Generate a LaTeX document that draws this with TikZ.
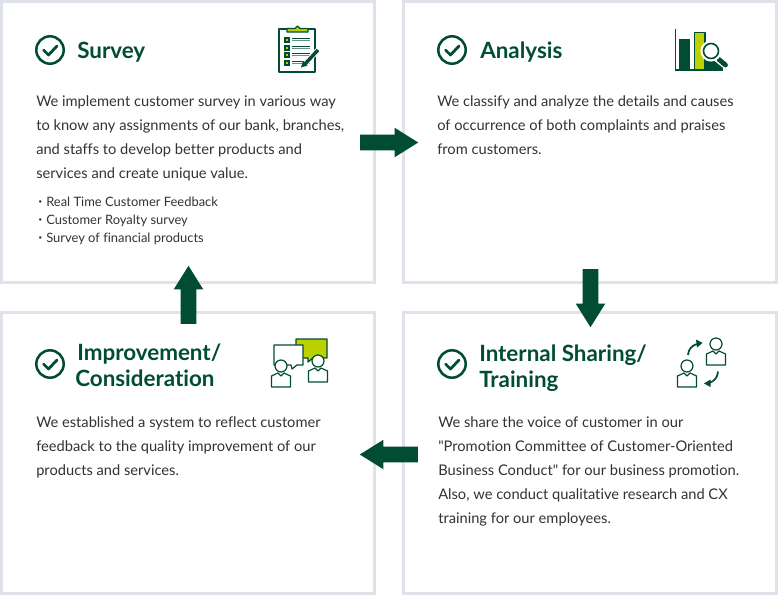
\documentclass[tikz,border=0pt]{standalone}
\usepackage{fontspec}
\setmainfont{Lato}[Ligatures={TeXOff,NoCommon}]
\newfontfamily\cjk{Noto Sans CJK JP}
\usetikzlibrary{shapes.arrows}
\definecolor{bankgreen}{HTML}{004D33}
\definecolor{bankyellow}{HTML}{BDD000}
\definecolor{panelline}{HTML}{DFE2EA}
\definecolor{bodygray}{HTML}{333333}
\tikzset{
  panel/.style={draw=panelline,line width=2.25pt,fill=white,minimum width=279.75pt,minimum height=210.75pt,outer sep=0pt},
  flow/.style={single arrow,fill=bankgreen,inner sep=5.625pt,outer sep=0pt,minimum height=43.5pt,minimum width=21.75pt,single arrow head extend=5.25pt,single arrow tip angle=64},
  heading/.style={anchor=base west,inner sep=0pt,font=\fontsize{16.8pt}{19pt}\bfseries,text=bankgreen},
  body/.style={anchor=base west,inner sep=0pt,font=\fontsize{11pt}{13pt}\selectfont,text=bodygray},
  small/.style={anchor=base west,inner sep=0pt,font=\fontsize{9.7pt}{11pt}\selectfont,text=bodygray},
  ink/.style={draw=bankgreen,line width=0.9pt,line join=round},
  checkmark/.pic={
    \draw[bankgreen,line width=1.9pt] (0,0) circle (13.7);
    \draw[bankgreen,line width=2.1pt,line cap=round,line join=round] (-6.5,0) -- (-1.5,5) -- (7,-4);
  },
  person/.pic={
    \draw[ink,fill=white] (-9.5,21) -- (-9.5,10) -- (-3,7) -- (0,10) -- (3,7) -- (9.5,10) -- (9.5,21) -- cycle;
    \draw[ink,fill=white] (0,0) circle (6);
  }
}
\begin{document}
\begin{tikzpicture}[x=0.75pt,y=-0.75pt]
  \useasboundingbox (0,0) rectangle (778,596);

  \node[panel] (survey)   at (188,142) {};
  \node[panel] (analysis) at (590,142) {};
  \node[panel] (improve)  at (188,453) {};
  \node[panel] (sharing)  at (590,453) {};

  \node[flow] (surveyanalysis)   at (383,142.5) {};
  \node[flow,shape border rotate=270] (analysissharing)  at (590.5,292) {};
  \node[flow,shape border rotate=180] (sharingimprove)   at (395,454.5) {};
  \node[flow,shape border rotate=90]  (improvesurvey)    at (188.5,301) {};

  % survey
  \pic at (50,50) {checkmark};
  \node[heading] (surveytitle) at (77,58) {Survey};
  \node[body] (surveya) at (36,106) {We implement customer survey in various way};
  \node[body] (surveyb) at (36,130) {to know any assignments of our bank, branches,};
  \node[body] (surveyc) at (36,154) {and staffs to develop better products and};
  \node[body] (surveyd) at (36,178) {services and create unique value.};
  \node[small] (surveye) at (34,206) {{\cjk\fontsize{9pt}{11pt}\selectfont ・}Real Time Customer Feedback};
  \node[small] (surveyf) at (34,224) {{\cjk\fontsize{9pt}{11pt}\selectfont ・}Customer Royalty survey};
  \node[small] (surveyg) at (34,242) {{\cjk\fontsize{9pt}{11pt}\selectfont ・}Survey of financial products};

  % clipboard
  \draw[ink,fill=white] (279,29) rectangle (315,72);
  \draw[ink,fill=bankyellow] (287,32) -- (287,28.5) -- (295,28.5) -- (297.5,26) -- (300,28.5) -- (308,28.5) -- (308,32) -- cycle;
  \foreach \rowy in {37,45,52,60} {
    \draw[bankgreen,fill=bankgreen] (284.5,\rowy) rectangle +(5,5);
    \fill[bankyellow] (286,\rowy+1.5) rectangle +(2,2);
    \draw[bankgreen,line width=0.6pt] (292,\rowy+1) -- (310,\rowy+1);
    \draw[bankgreen!60,line width=0.6pt] (292,\rowy+3.5) -- (310,\rowy+3.5);
  }
  \draw[white,line width=4pt] (304,65) -- (318,50);
  \draw[bankgreen,line width=2.6pt] (305,64) -- (318,50);
  \fill[bankgreen] (301,67.5) -- (303,61) -- (307.5,65.5) -- cycle;

  % analysis
  \pic at (452,50) {checkmark};
  \node[heading] (analysistitle) at (480,58) {Analysis};
  \node[body] (analysisa) at (437,106) {We classify and analyze the details and causes};
  \node[body] (analysisb) at (437,130) {of occurrence of both complaints and praises};
  \node[body] (analysisc) at (437,154) {from customers.};

  % chart
  \fill[bankgreen] (679,39) rectangle (690,70);
  \draw[ink,fill=bankyellow] (694.5,32.5) rectangle (705,70);
  \fill[bankgreen] (705,60) rectangle (723,70);
  \draw[bankgreen,line width=0.9pt] (675.5,29) -- (675.5,70) -- (723,70);
  \draw[white,line width=6pt,line cap=round] (716,57) -- (726,65);
  \draw[bankgreen,line width=3.6pt,line cap=round] (719,59.5) -- (725.5,65);
  \draw[white,line width=1.6pt,fill=white] (711,51) circle (9.5);
  \draw[bankgreen,line width=1.2pt] (711,51) circle (7.5);

  % improvement
  \pic at (50,364) {checkmark};
  \node[heading] (improvetitlea) at (77,360) {Improvement/};
  \node[heading] (improvetitleb) at (75,386) {Consideration};
  \node[body] (improvea) at (36,427) {We established a system to reflect customer};
  \node[body] (improveb) at (36,451) {feedback to the quality improvement of our};
  \node[body] (improvec) at (36,475) {products and services.};

  % bubbles
  \draw[ink,fill=bankyellow] (296,339) -- (327,339) -- (327,358) -- (313,358) -- (308,362) -- (308,358) -- (296,358) -- cycle;
  \draw[ink,fill=white] (274,345) -- (303,345) -- (303,365) -- (297,365) -- (292,369) -- (291,365) -- (274,365) -- cycle;
  \pic at (281,366) {person};
  \pic at (318,361) {person};

  % sharing
  \pic at (452,364) {checkmark};
  \node[heading] (sharingtitlea) at (479,361) {Internal Sharing/};
  \node[heading] (sharingtitleb) at (479,387) {Training};
  \node[body] (sharinga) at (438,427) {We share the voice of customer in our};
  \node[body] (sharingb) at (438,451) {"Promotion Committee of Customer-Oriented};
  \node[body] (sharingc) at (438,475) {Business Conduct" for our business promotion.};
  \node[body] (sharingd) at (438,499) {Also, we conduct qualitative research and CX};
  \node[body] (sharinge) at (438,523) {training for our employees.};

  % people swapping
  \pic at (716,344) {person};
  \pic at (687,366) {person};
  \draw[bankgreen,line width=1.3pt] (688,355) to[bend left=35] (697,344);
  \fill[bankgreen] (702.5,343) -- (696,339.5) -- (697,347.5) -- cycle;
  \draw[bankgreen,line width=1.3pt] (718,371.5) to[bend left=35] (709,383);
  \fill[bankgreen] (704,383.5) -- (710.5,379.5) -- (710.5,387) -- cycle;
\end{tikzpicture}
\end{document}
